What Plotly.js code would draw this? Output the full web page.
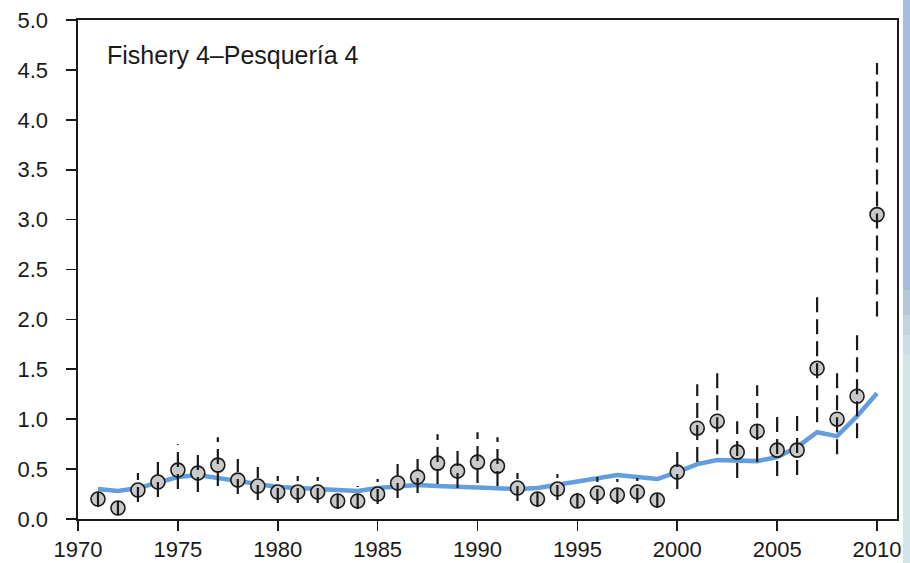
<!DOCTYPE html>
<html>
<head>
<meta charset="utf-8">
<script src="https://cdn.plot.ly/plotly-3.0.1.min.js"></script>
<style>html,body{margin:0;padding:0;background:#fff;}#chart{width:910px;height:563px;}</style>
</head>
<body>
<div id="chart"></div>
<script>
const years = [1971,1972,1973,1974,1975,1976,1977,1978,1979,1980,
               1981,1982,1983,1984,1985,1986,1987,1988,1989,1990,
               1991,1992,1993,1994,1995,1996,1997,1998,1999,2000,
               2001,2002,2003,2004,2005,2006,2007,2008,2009,2010];
const observed = [0.20,0.11,0.29,0.37,0.49,0.46,0.54,0.39,0.33,0.27,
                  0.27,0.27,0.18,0.18,0.25,0.36,0.42,0.56,0.48,0.57,
                  0.53,0.31,0.20,0.30,0.18,0.26,0.24,0.27,0.19,0.47,
                  0.91,0.98,0.67,0.88,0.69,0.69,1.51,1.00,1.23,3.05];
const lower = [0.12,0.04,0.17,0.22,0.30,0.27,0.33,0.25,0.19,0.16,
               0.16,0.16,0.10,0.10,0.15,0.21,0.26,0.35,0.31,0.36,
               0.33,0.18,0.12,0.19,0.11,0.15,0.15,0.16,0.11,0.30,
               0.57,0.65,0.41,0.57,0.43,0.44,0.97,0.65,0.81,2.03];
const upper = [0.30,0.18,0.46,0.57,0.75,0.71,0.82,0.60,0.52,0.43,
               0.43,0.42,0.28,0.33,0.40,0.55,0.60,0.85,0.75,0.87,
               0.82,0.46,0.33,0.45,0.31,0.42,0.40,0.41,0.31,0.72,
               1.35,1.52,0.98,1.34,1.05,1.07,2.28,1.52,1.86,4.57];
const fitted = [0.30,0.28,0.31,0.36,0.42,0.44,0.41,0.37,0.34,0.32,
                0.31,0.30,0.28,0.28,0.31,0.33,0.34,0.33,0.32,0.31,
                0.31,0.30,0.31,0.34,0.37,0.40,0.44,0.42,0.40,0.47,
                0.55,0.59,0.59,0.58,0.62,0.72,0.87,0.83,1.03,1.26];
const xTicks = [1970,1975,1980,1985,1990,1995,2000,2005,2010];
const yTicks = [0,0.5,1,1.5,2,2.5,3,3.5,4,4.5,5];
const panelLabel = "Fishery 4\u2013Pesquer\u00eda 4";

const ex = [], ey = [];
years.forEach((yr, i) => { ex.push(yr, yr, null); ey.push(lower[i], upper[i], null); });

const FONT = "Liberation Sans, Arial, Helvetica, sans-serif";

const traces = [
  {x: years, y: fitted, type: 'scatter', mode: 'lines',
   line: {color: 'rgb(98,158,222)', width: 4.5}, hoverinfo: 'skip'},
  {x: years, y: observed, type: 'scatter', mode: 'markers',
   marker: {symbol: 'circle', size: 14, color: '#c9c9c9', line: {color: '#1a1a1a', width: 1.6}}},
  {x: ex, y: ey, type: 'scatter', mode: 'lines', connectgaps: false,
   line: {color: '#1a1a1a', width: 2.2, dash: '15px,7px'}, hoverinfo: 'skip'}
];

const strip = (y0, y1, c) => ({type: 'rect', xref: 'paper', yref: 'paper',
  x0: (903-78)/819, x1: 1.05, y0: y0, y1: y1, fillcolor: c, line: {width: 0}, layer: 'below'});

const layout = {
  width: 910, height: 563,
  margin: {l: 78, r: 13, t: 20, b: 44},
  paper_bgcolor: '#ffffff', plot_bgcolor: '#ffffff',
  showlegend: false,
  font: {family: FONT, size: 22, color: '#1a1a1a'},
  xaxis: {range: [1970, 2011], tickmode: 'array', tickvals: xTicks, ticktext: xTicks.map(String),
          ticks: 'outside', ticklen: 10, tickwidth: 1.6, tickcolor: '#1a1a1a',
          showgrid: false, zeroline: false, showline: true, mirror: true,
          linecolor: '#1a1a1a', linewidth: 1.6, ticklabelstandoff: 0,
          tickfont: {family: FONT, size: 22, color: '#1a1a1a'}},
  yaxis: {range: [0, 5], tickmode: 'array', tickvals: yTicks, ticktext: yTicks.map(v => v.toFixed(1)),
          ticks: 'outside', ticklen: 10, tickwidth: 1.6, tickcolor: '#1a1a1a',
          showgrid: false, zeroline: false, showline: true, mirror: true,
          linecolor: '#1a1a1a', linewidth: 1.6, ticklabelstandoff: 14,
          tickfont: {family: FONT, size: 22, color: '#1a1a1a'}},
  annotations: [{text: panelLabel, xref: 'paper', yref: 'paper', x: (105-78)/819, y: (519-55)/499,
                 xanchor: 'left', yanchor: 'middle', showarrow: false,
                 font: {family: FONT, size: 25, color: '#1a1a1a'}}],
  shapes: [
    strip(1.05, (519-290)/499, '#a6bfd8'),
    strip((519-290)/499, (519-315)/499, '#b2c9dd'),
    strip((519-315)/499, (519-335)/499, '#bfd5e2'),
    strip((519-335)/499, (519-355)/499, '#c9dee6'),
    strip((519-355)/499, -0.1, '#d2e6ea')
  ]
};

Plotly.newPlot('chart', traces, layout, {displayModeBar: false, staticPlot: true});
</script>
</body>
</html>
